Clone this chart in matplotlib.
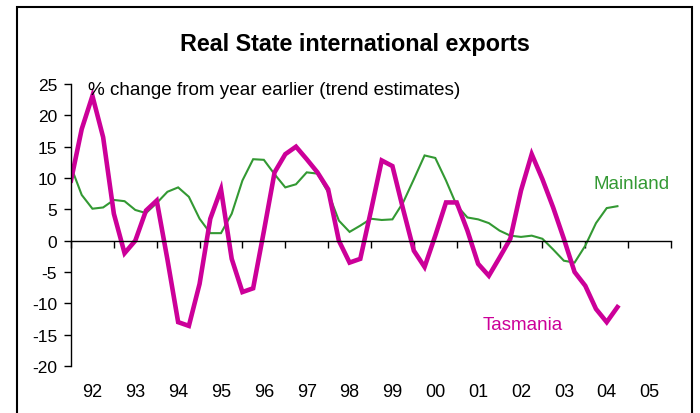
import matplotlib
matplotlib.use("Agg")
import matplotlib.pyplot as plt
import matplotlib.transforms as mtransforms
from matplotlib.patches import Rectangle
import numpy as np

plt.rcParams['font.family'] = ['Liberation Sans', 'DejaVu Sans']
plt.rcParams['axes.unicode_minus'] = False

# quarterly observations, 1992 Q1 .. 2004 Q4
years = list(range(1992, 2005))
quarters = [y + q * 0.25 for y in years for q in range(4)]

mainland = [11.8, 7.3, 5.1, 5.3,
            6.5, 6.3, 4.9, 4.4,
            6.0, 7.8, 8.5, 7.0,
            3.5, 1.2, 1.2, 4.3,
            9.6, 13.0, 12.9, 10.6,
            8.5, 9.0, 10.9, 10.7,
            7.7, 3.2, 1.4, 2.4,
            3.5, 3.3, 3.4, 6.1,
            9.8, 13.6, 13.2, 9.6,
            5.6, 3.7, 3.4, 2.8,
            1.6, 0.8, 0.6, 0.8,
            0.3, -1.4, -3.2, -3.5,
            -0.8, 2.8, 5.2, 5.5]

tasmania = [9.6, 17.8, 23.1, 16.5,
            4.3, -2.0, 0.0, 4.8,
            6.4, -3.0, -13.0, -13.6,
            -6.9, 3.5, 8.2, -2.9,
            -8.2, -7.6, 1.5, 10.9,
            13.8, 15.0, 13.0, 10.9,
            8.2, 0.0, -3.5, -2.9,
            4.8, 12.8, 11.9, 5.0,
            -1.6, -4.2, 0.8, 6.1,
            6.1, 1.6, -3.7, -5.6,
            -2.7, 0.3, 8.0, 13.8,
            9.8, 5.3, 0.3, -5.0,
            -7.2, -10.9, -13.0, -10.6]

year_labels = ['92', '93', '94', '95', '96', '97', '98',
               '99', '00', '01', '02', '03', '04', '05']

magenta = '#CC0099'
green = '#339933'

fig = plt.figure(figsize=(7, 4.14), dpi=100)
ax = fig.add_axes([71/700, 1 - 367/414, 600/700, 282/414])

ax.plot(quarters, mainland, color=green, lw=1.5, solid_joinstyle='miter')
ax.plot(quarters, tasmania, color=magenta, lw=3.3, solid_joinstyle='miter')

ax.set_xlim(1992, 2006)
ax.set_ylim(-20, 25)
ax.set_yticks(range(-20, 30, 5))
ax.tick_params(axis='y', direction='out', length=5, width=1, pad=5, labelsize=12.5)

ax.spines['top'].set_visible(False)
ax.spines['right'].set_visible(False)
ax.spines['bottom'].set_position(('data', 0))
ax.spines['left'].set_linewidth(1)
ax.spines['bottom'].set_linewidth(1)
ax.set_xticks(range(1992, 2007))
ax.set_xticklabels([])
ax.tick_params(axis='x', direction='out', length=5, width=1)

trans = mtransforms.blended_transform_factory(ax.transData, ax.transAxes)
for i, lab in enumerate(year_labels):
    ax.text(1992 + i + 0.5, -0.092, lab, transform=trans, ha='center', va='center',
            fontsize=13)

ax.text(1992 + 17/600*14, 24.2, '% change from year earlier (trend estimates)',
        fontsize=13.6, va='center', ha='left')
ax.text(2004.2, 9.2, 'Mainland', color=green, fontsize=13.5, va='center', ha='left')
ax.text(2001.6, -13.4, 'Tasmania', color=magenta, fontsize=13.5, va='center', ha='left')

fig.text(354.5/700, 1 - 45/414, 'Real State international exports', fontsize=16.8,
         fontweight='bold', ha='center', va='center')

fig.patches.append(Rectangle((17/700, -0.05), 675/700, 1.05 - 8/414, transform=fig.transFigure,
                             fill=False, edgecolor='black', lw=1.5))

fig.savefig('out.png', dpi=100)
